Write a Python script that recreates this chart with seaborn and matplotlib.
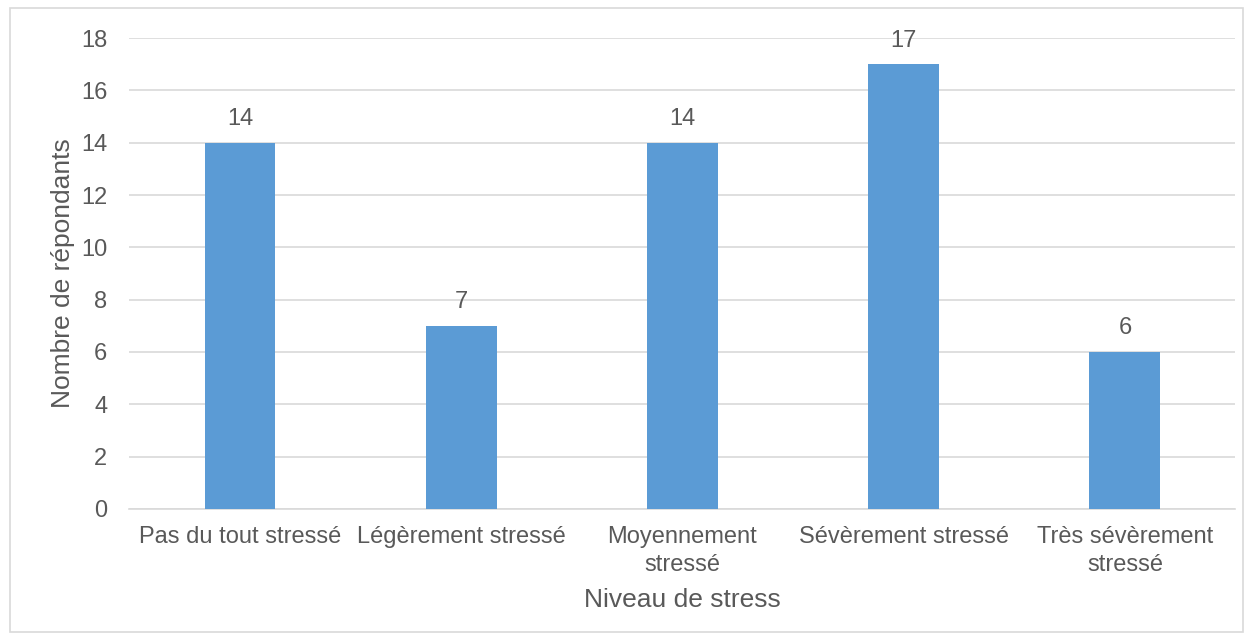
import matplotlib
matplotlib.use("Agg")
import matplotlib.pyplot as plt
import seaborn as sns
import pandas as pd

categories = ["Pas du tout stressé", "Légèrement stressé", "Moyennement\nstressé",
              "Sévèrement stressé", "Très sévèrement\nstressé"]
values = [14, 7, 14, 17, 6]
yticks = [0, 2, 4, 6, 8, 10, 12, 14, 16, 18]

sns.set_theme(style="white")
plt.rcParams['font.family'] = ['Liberation Sans', 'DejaVu Sans']

df = pd.DataFrame({"cat": categories, "val": values})
txt = "#595959"

fig = plt.figure(figsize=(12.51, 6.4), dpi=100)
ax = fig.add_axes([0.1035, 0.2047, 0.8841, 0.7359])
sns.barplot(data=df, x="cat", y="val", color="#5B9BD5", width=0.32, saturation=1,
            linewidth=0, ax=ax, zorder=3)
ax.set_ylim(0, 18)
ax.set_yticks(yticks)
ax.set_xlim(-0.5, len(categories) - 0.5)
ax.yaxis.grid(True, color="#d9d9d9", linewidth=1.2, zorder=0)
ax.set_axisbelow(True)
for s in ["top", "right", "left"]:
    ax.spines[s].set_visible(False)
ax.spines["bottom"].set_color("#d9d9d9")
ax.spines["bottom"].set_linewidth(1.2)
ax.tick_params(axis="both", length=0, labelsize=17, colors=txt)
ax.tick_params(axis="y", pad=16)
ax.tick_params(axis="x", pad=12)
for lbl in ax.get_xticklabels():
    lbl.set_linespacing(1.4)
for c in ax.containers:
    ax.bar_label(c, labels=[str(v) for v in values], padding=9, fontsize=17, color=txt)
ax.set_xlabel("Niveau de stress", fontsize=19, color=txt, labelpad=8)
ax.set_ylabel("Nombre de répondants", fontsize=19, color=txt, labelpad=4)

border = plt.Rectangle((10 / 1251, 8 / 640), 1233 / 1251, 624 / 640, transform=fig.transFigure,
                       fill=False, edgecolor="#d9d9d9", linewidth=1.2)
fig.patches.append(border)
fig.savefig("out.png", dpi=100, facecolor="white")
